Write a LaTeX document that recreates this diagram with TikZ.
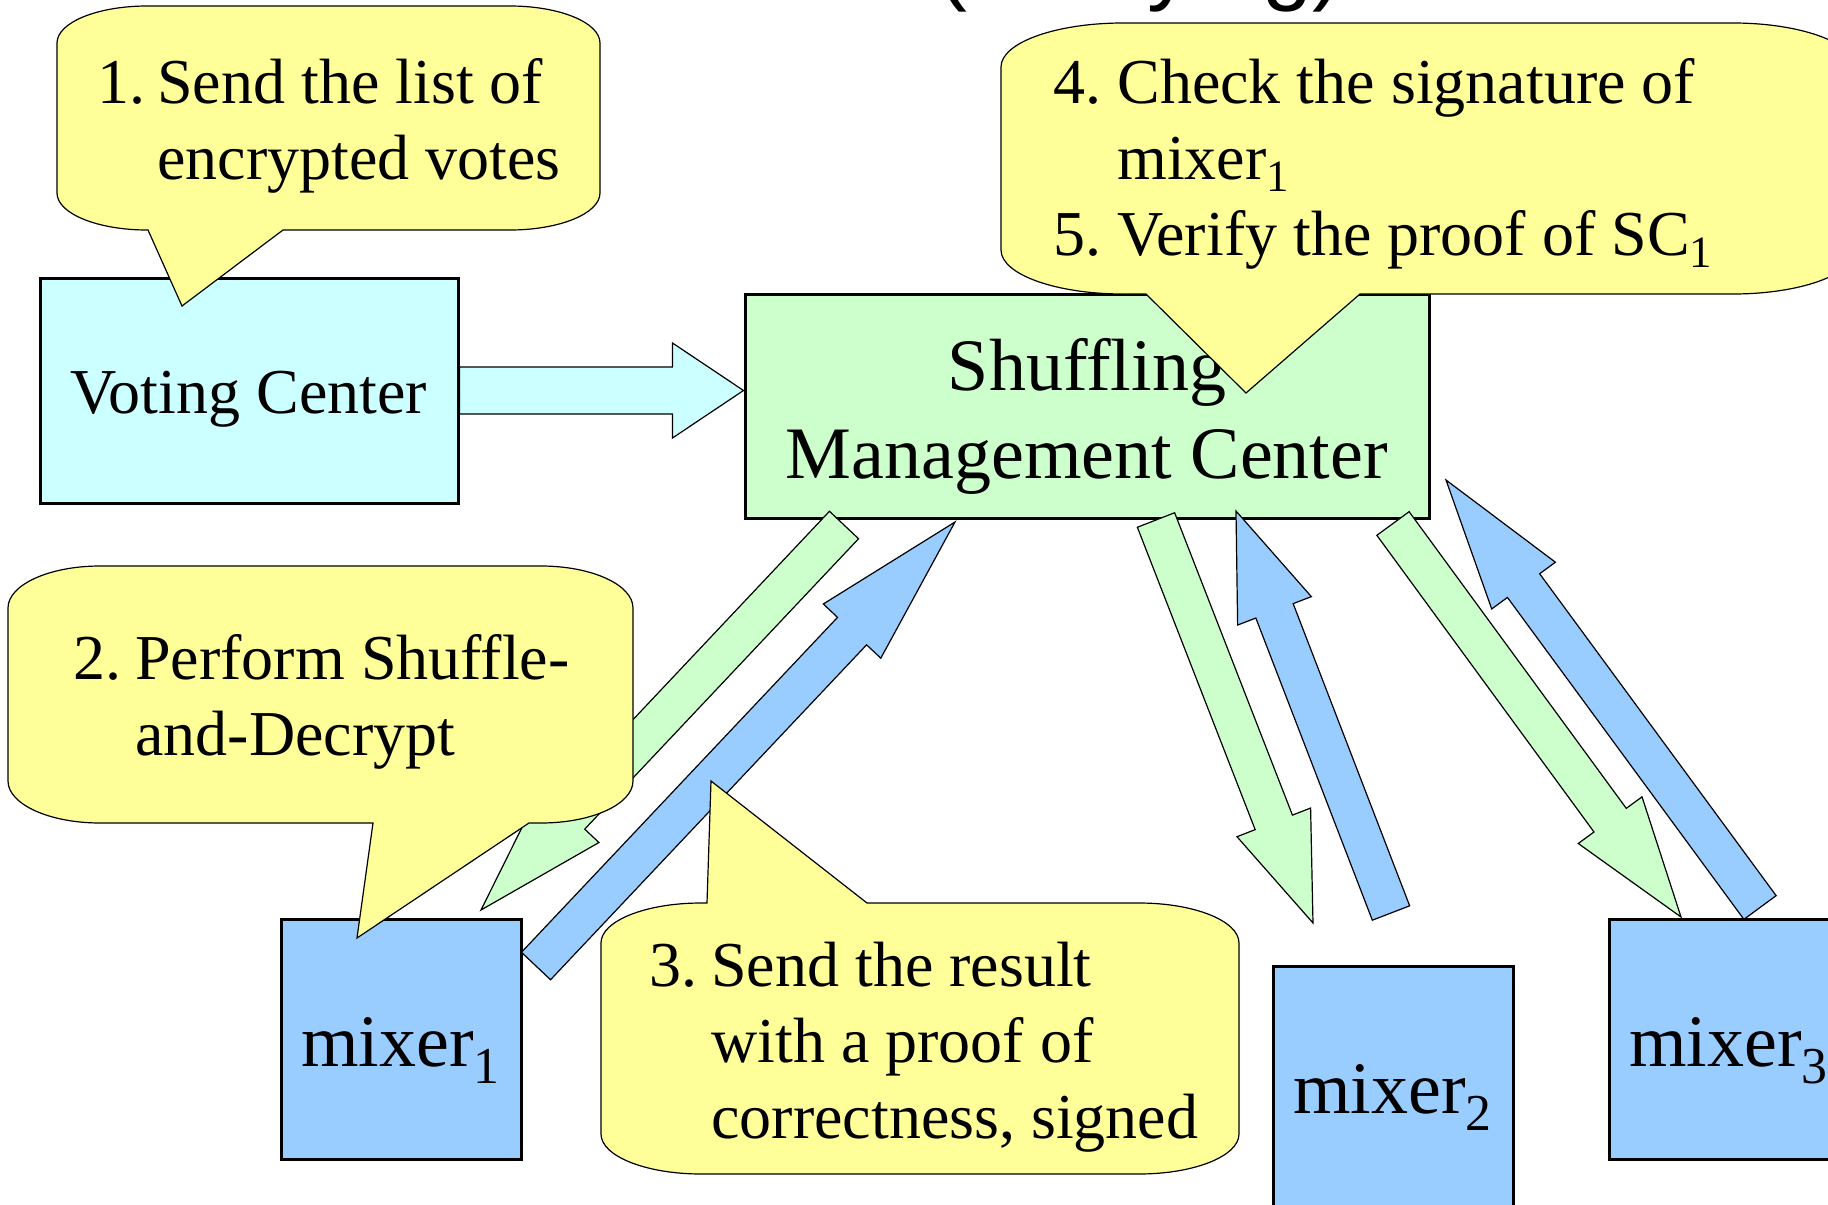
\documentclass[tikz,border=0pt]{standalone}
\usepackage{fontspec}
\setmainfont{Liberation Serif}
\newfontfamily\titlefont{Liberation Sans}
\usetikzlibrary{calc}

\definecolor{votecyan}{HTML}{CCFFFF}
\definecolor{mgmtgreen}{HTML}{CCFFCC}
\definecolor{mixblue}{HTML}{99CCFF}
\definecolor{noteyellow}{HTML}{FFFF99}

\tikzset{
    box/.style={
        draw,
        line width=1.5pt,
        inner sep=0pt,
        align=center
    },
    mixer/.style={
        box,
        fill=mixblue,
        minimum width=120pt,
        minimum height=120pt,
        font=\fontsize{37}{44}\selectfont,
        text height=27pt,
        text depth=0pt
    },
    balloon/.style={draw, line width=0.6pt, fill=noteyellow},
    bubbletext/.style={anchor=base west, inner sep=0pt, font=\fontsize{32}{38}\selectfont},
    fatarrow/.style={draw, line width=0.6pt, line join=miter}
}

% block arrow: [fill]{from}{to}{head length}{shaft half width}{head half width}
\newcommand{\blockarrow}[6][]{%
  \coordinate (ba-h) at ($(#3)!#4!(#2)$);
  \draw[fatarrow, #1] ($(#2)!#5!90:(#3)$) -- ($(ba-h)!#5!90:(#3)$)
    -- ($(ba-h)!#6!90:(#3)$) -- (#3) -- ($(ba-h)!#6!-90:(#3)$)
    -- ($(ba-h)!#5!-90:(#3)$) -- ($(#2)!#5!-90:(#3)$) -- cycle;
}

% balloon, pointer under it: {left}{top}{right}{bottom}{rx}{ry}{base left}{base right}{tip}
\newcommand{\balloondown}[9]{%
  \draw[balloon] ({#1+#5},#2) -- ({#3-#5},#2)
    arc[start angle=270, end angle=360, x radius=#5, y radius=#6]
    -- (#3,{#4-#6})
    arc[start angle=0, end angle=90, x radius=#5, y radius=#6]
    -- (#8,#4) -- (#9) -- (#7,#4) -- ({#1+#5},#4)
    arc[start angle=90, end angle=180, x radius=#5, y radius=#6]
    -- (#1,{#2+#6})
    arc[start angle=180, end angle=270, x radius=#5, y radius=#6]
    -- cycle;
}

% balloon, pointer above it
\newcommand{\balloonup}[9]{%
  \draw[balloon] ({#1+#5},#2) -- (#7,#2) -- (#9) -- (#8,#2) -- ({#3-#5},#2)
    arc[start angle=270, end angle=360, x radius=#5, y radius=#6]
    -- (#3,{#4-#6})
    arc[start angle=0, end angle=90, x radius=#5, y radius=#6]
    -- ({#1+#5},#4)
    arc[start angle=90, end angle=180, x radius=#5, y radius=#6]
    -- (#1,{#2+#6})
    arc[start angle=180, end angle=270, x radius=#5, y radius=#6]
    -- cycle;
}

\begin{document}
\begin{tikzpicture}[x=0.5pt,y=-0.5pt]
\useasboundingbox (0,0) rectangle (1828,1205);
\clip (0,0) rectangle (1828,1205);

% title, cut by the top edge
\node[anchor=base west, inner sep=0pt, font=\titlefont\fontsize{45}{54}\selectfont] (title) at (937,-7) {(Verifying)};

% boxes
\node[box, fill=votecyan, minimum width=209pt, minimum height=112.5pt,
      font=\fontsize{32}{38}\selectfont, text height=22.5pt, text depth=0pt] (vc) at (249,390.5) {Voting Center};
\node[box, fill=mgmtgreen, minimum width=342pt, minimum height=112pt,
      font=\fontsize{37}{44}\selectfont] (smc) at (1087,406) {\rule{0pt}{36pt}Shuffling\\Management Center};
\node[mixer] (mix1) at (401,1039) {mixer\textsubscript{1}};
\node[mixer] (mix2) at (1393,1086) {mixer\textsubscript{2}};
\node[mixer] (mix3) at (1729,1039) {mixer\textsubscript{3}};

% arrows
\coordinate (vc-tip) at (vc.east -| smc.west);
\blockarrow[fill=votecyan]{vc.east}{vc-tip}{35.5pt}{11.75pt}{23.75pt}

\coordinate (g1a) at (844,525);
\coordinate (g1b) at (481,910);
\coordinate (b1a) at (536,966);
\coordinate (b1b) at (955,522);
\coordinate (g2a) at (1156,520);
\coordinate (g2b) at (1313,923);
\coordinate (b2a) at (1391,913);
\coordinate (b2b) at (1236,511);
\coordinate (g3a) at (1393,523.5);
\coordinate (g3b) at (1681,917);
\coordinate (b3a) at (1760,907.5);
\coordinate (b3b) at (1446,480);

\blockarrow[fill=mgmtgreen]{g1a}{g1b}{65pt}{10pt}{19.75pt}
\blockarrow[fill=mixblue]{b1a}{b1b}{75pt}{10pt}{19.75pt}
\blockarrow[fill=mgmtgreen]{g2a}{g2b}{54pt}{10pt}{19.75pt}
\blockarrow[fill=mixblue]{b2a}{b2b}{53.5pt}{10pt}{19.75pt}
\blockarrow[fill=mgmtgreen]{g3a}{g3b}{60pt}{10pt}{19.75pt}
\blockarrow[fill=mixblue]{b3a}{b3b}{65.5pt}{10pt}{19.75pt}

% balloons
\balloondown{57}{6}{600}{230}{90}{37}{148}{283}{182,306}
\balloondown{8}{566}{633}{823}{92}{42}{373}{529}{357,938}
\balloonup{601}{903}{1239}{1174}{100}{40}{707}{867}{711,781}
\balloondown{1001}{23}{1855}{294}{122}{44}{1146}{1360}{1246,393}

\node[bubbletext] (note1) at (97,103) {\begin{tabular}[t]{@{}l@{\hspace{6pt}}l@{}}1.&Send the list of\\&encrypted votes\end{tabular}};
\node[bubbletext] (note2) at (73,679) {\begin{tabular}[t]{@{}l@{\hspace{7pt}}l@{}}2.&Perform Shuffle-\\&and-Decrypt\end{tabular}};
\node[bubbletext] (note3) at (649,986) {\begin{tabular}[t]{@{}l@{\hspace{7pt}}l@{}}3.&Send the result\\&with a proof of\\&correctness, signed\end{tabular}};
\node[bubbletext] (note4) at (1053,103) {\begin{tabular}[t]{@{}l@{\ }l@{}}4.&Check the signature of\\&mixer\textsubscript{1}\\5.&Verify the proof of SC\textsubscript{1}\end{tabular}};
\end{tikzpicture}
\end{document}
